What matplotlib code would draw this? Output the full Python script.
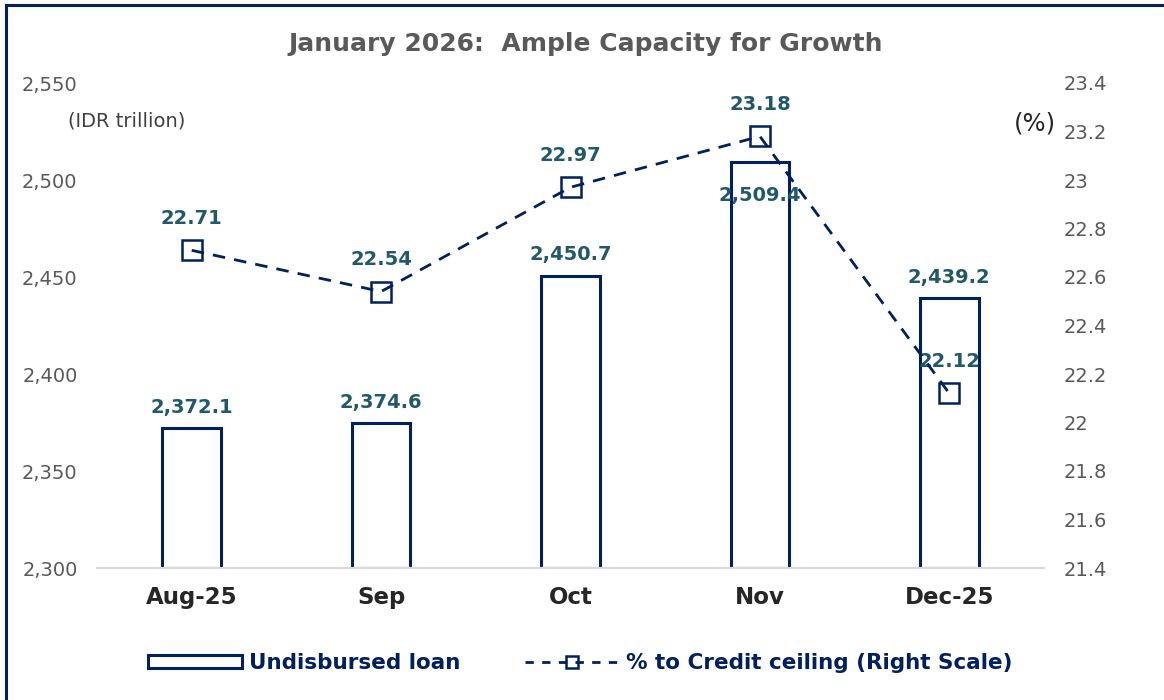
#========================================#
# Undisbursed loan vs % to credit ceiling
#========================================#
import matplotlib
matplotlib.use("Agg")
import matplotlib.pyplot as plt
from matplotlib.lines import Line2D
from matplotlib.patches import Patch
from matplotlib.ticker import FuncFormatter

# Data
#========================================#
months = ["Aug-25", "Sep", "Oct", "Nov", "Dec-25"]
undisbursed = [2372.1, 2374.6, 2450.7, 2509.4, 2439.2]
pct_ceiling = [22.71, 22.54, 22.97, 23.18, 22.12]
left_ticks = [2300, 2350, 2400, 2450, 2500, 2550]
right_ticks = [21.4, 21.6, 21.8, 22, 22.2, 22.4, 22.6, 22.8, 23, 23.2, 23.4]

navy = "#002060"
teal = "#215968"
grey = "#595959"

plt.rcParams["font.family"] = ["DejaVu Sans"]

# Figure
#========================================#
fig = plt.figure(figsize=(11.64, 7.0), dpi=100)
ax = fig.add_axes([97 / 1164, 1 - 568 / 700, (1044 - 97) / 1164, (568 - 83) / 700])
ax2 = ax.twinx()

x = list(range(len(months)))

# Bars
bars = ax.bar(x, [v - left_ticks[0] for v in undisbursed], bottom=left_ticks[0],
              width=0.31, facecolor="white", edgecolor=navy, linewidth=2.2, zorder=2)
ax.set_xlim(-0.5, len(months) - 0.5)
ax.set_ylim(left_ticks[0], left_ticks[-1])
ax.set_yticks(left_ticks)
ax.yaxis.set_major_formatter(FuncFormatter(lambda v, p: f"{v:,.0f}"))

# bar labels: Nov label sits inside the bar
for i, v in enumerate(undisbursed):
    off = -24 if months[i] == "Nov" else 15
    ax.annotate(f"{v:,.1f}", (i, v), xytext=(0, off), textcoords="offset points",
                ha="center", va="center", fontsize=14, fontweight="bold", color=teal,
                zorder=5)

# Line on right axis
ax2.plot(x, pct_ceiling, color=navy, linewidth=2.0, dashes=(4.5, 3.3),
         marker="s", markersize=14, markerfacecolor="none",
         markeredgecolor=navy, markeredgewidth=1.8, zorder=4)
ax2.set_ylim(right_ticks[0], right_ticks[-1])
ax2.set_yticks(right_ticks)
ax2.yaxis.set_major_formatter(FuncFormatter(lambda v, p: f"{v:g}"))
for i, v in enumerate(pct_ceiling):
    ax2.annotate(f"{v:.2f}", (i, v), xytext=(0, 23), textcoords="offset points",
                 ha="center", va="center", fontsize=14, fontweight="bold", color=teal)

# Axes cosmetics
for a in (ax, ax2):
    for s in ["top", "left", "right"]:
        a.spines[s].set_visible(False)
    a.spines["bottom"].set_color("#D9D9D9")
    a.spines["bottom"].set_linewidth(1.5)
    a.tick_params(axis="y", length=0, labelsize=14, labelcolor=grey)
ax.tick_params(axis="y", pad=14)
ax2.tick_params(axis="y", pad=14)
ax.set_xticks(x)
ax.set_xticklabels(months, fontsize=16.5, fontweight="bold", color="#262626")
ax.tick_params(axis="x", length=0, pad=13)

# Axis units
fig.text(68 / 1164, 1 - 121 / 700, "(IDR trillion)", fontsize=14, color="#404040",
         ha="left", va="center")
fig.text(1035 / 1164, 1 - 123 / 700, "(%)", fontsize=17.5, color="#262626",
         ha="center", va="center")

# Title
fig.text(586 / 1164, 1 - 44 / 700, "January 2026:  Ample Capacity for Growth",
         fontsize=18, fontweight="bold", color=grey, ha="center", va="center")

# Legend
handles = [Patch(facecolor="white", edgecolor=navy, linewidth=2.2),
           Line2D([], [], color=navy, linewidth=2.0, dashes=(3, 3), marker="s",
                  markersize=9, markerfacecolor="none", markeredgecolor=navy,
                  markeredgewidth=1.8)]
leg = fig.legend(handles, ["Undisbursed loan", "% to Credit ceiling (Right Scale)"],
                 loc="center", bbox_to_anchor=(580 / 1164, 1 - 663 / 700), ncol=2,
                 frameon=False, fontsize=15.5, handlelength=4.4, handleheight=0.6,
                 columnspacing=3.0, handletextpad=0.3)
for t in leg.get_texts():
    t.set_fontweight("bold")
    t.set_color(navy)

# Border (top and left only)
fig.add_artist(Line2D([6 / 1164, 6 / 1164], [0, 1 - 5 / 700], transform=fig.transFigure,
                      color=navy, linewidth=2.2))
fig.add_artist(Line2D([6 / 1164, 1], [1 - 5 / 700, 1 - 5 / 700], transform=fig.transFigure,
                      color=navy, linewidth=2.2))

fig.savefig("out.png", dpi=100)
